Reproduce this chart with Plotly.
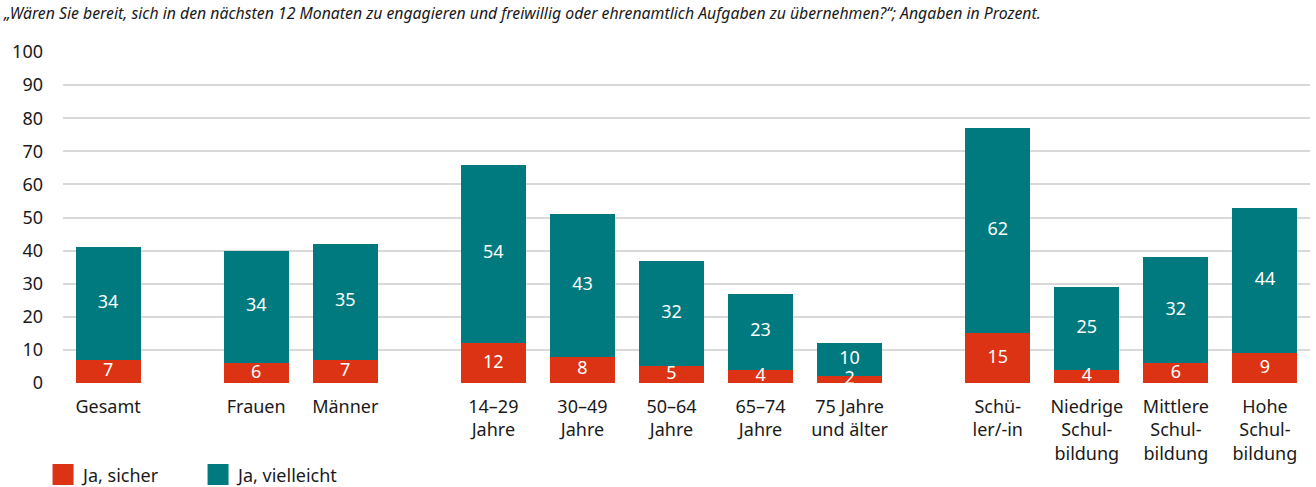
import plotly.graph_objects as go

# Daten (Angaben in Prozent)
kategorien = [
    "Gesamt",
    "Frauen", "Männer",
    "14–29<br>Jahre", "30–49<br>Jahre", "50–64<br>Jahre", "65–74<br>Jahre", "75 Jahre<br>und älter",
    "Schü-<br>ler/-in", "Niedrige<br>Schul-<br>bildung", "Mittlere<br>Schul-<br>bildung", "Hohe<br>Schul-<br>bildung",
]
gruppe = [0, 1, 1, 2, 2, 2, 2, 2, 3, 3, 3, 3]
ja_sicher = [7, 6, 7, 12, 8, 5, 4, 2, 15, 4, 6, 9]
ja_vielleicht = [34, 34, 35, 54, 43, 32, 23, 10, 62, 25, 32, 44]

ROT = "#DC3314"
PETROL = "#007A7F"
FONT = "Noto Sans"
GAP = 0.663  # zusätzlicher Abstand zwischen den Gruppen

# x-Positionen: Index plus Gruppenabstand
xpos = [i + g * GAP for i, g in enumerate(gruppe)]

fig = go.Figure()

fig.add_trace(go.Bar(
    x=xpos, y=ja_sicher, name="Ja, sicher",
    marker=dict(color=ROT, line=dict(width=0)),
    width=0.73, showlegend=False, hoverinfo="y",
))
fig.add_trace(go.Bar(
    x=xpos, y=ja_vielleicht, name="Ja, vielleicht",
    marker=dict(color=PETROL, line=dict(width=0)),
    width=0.73, showlegend=False, hoverinfo="y",
))

# Werte als Text oben drauf (damit kleine Werte nicht verdeckt werden)
mitte_sicher = [v / 2 for v in ja_sicher]
mitte_vielleicht = [s + v / 2 for s, v in zip(ja_sicher, ja_vielleicht)]
for ys, vals in [(mitte_sicher, ja_sicher), (mitte_vielleicht, ja_vielleicht)]:
    fig.add_trace(go.Scatter(
        x=xpos, y=ys, mode="text", text=[str(v) for v in vals],
        textposition="middle center",
        textfont=dict(color="white", size=18, family=FONT),
        showlegend=False, hoverinfo="skip", cliponaxis=False,
    ))

# Legende mit großen quadratischen Symbolen
for name, col in [("Ja, sicher", ROT), ("Ja, vielleicht", PETROL)]:
    fig.add_trace(go.Scatter(
        x=[None], y=[None], mode="markers", name=name,
        marker=dict(symbol="square", size=16, color=col, line=dict(width=5, color=col)),
    ))

fig.update_xaxes(
    tickmode="array", tickvals=xpos, ticktext=kategorien,
    range=[-0.506, xpos[-1] + 0.506],
    showgrid=False, zeroline=False, showline=False,
    ticklabelstandoff=11, automargin=False,
    tickfont=dict(size=18, color="#1a1a1a", family=FONT),
)
fig.update_yaxes(
    range=[0, 100], dtick=10,
    showgrid=True, gridcolor="#d9d9d9", gridwidth=2,
    zeroline=False, showline=False,
    ticklabelstandoff=19, automargin=False,
    tickfont=dict(size=18, color="#1a1a1a", family=FONT),
)

fig.update_layout(
    barmode="stack",
    width=1316, height=487,
    margin=dict(l=63, r=6, t=52, b=104),
    plot_bgcolor="white", paper_bgcolor="white",
    font=dict(family=FONT, color="#1a1a1a"),
    title=dict(
        text="„Wären Sie bereit, sich in den nächsten 12 Monaten zu engagieren und freiwillig oder ehrenamtlich Aufgaben zu übernehmen?“; Angaben in Prozent.",
        xref="container", yref="container", x=0.003, y=0.972,
        xanchor="left", yanchor="middle",
        font=dict(size=15.8, style="italic", family=FONT, color="#1a1a1a"),
    ),
    legend=dict(
        orientation="h", x=-0.016, xanchor="left",
        yref="container", y=0.025, yanchor="middle",
        font=dict(size=18, family=FONT, color="#1a1a1a"),
        entrywidth=110, itemsizing="trace", traceorder="normal",
    ),
)

fig.write_html(
    "out.html",
    config={"displayModeBar": False},
    post_script="document.body.style.margin='0';",
)
